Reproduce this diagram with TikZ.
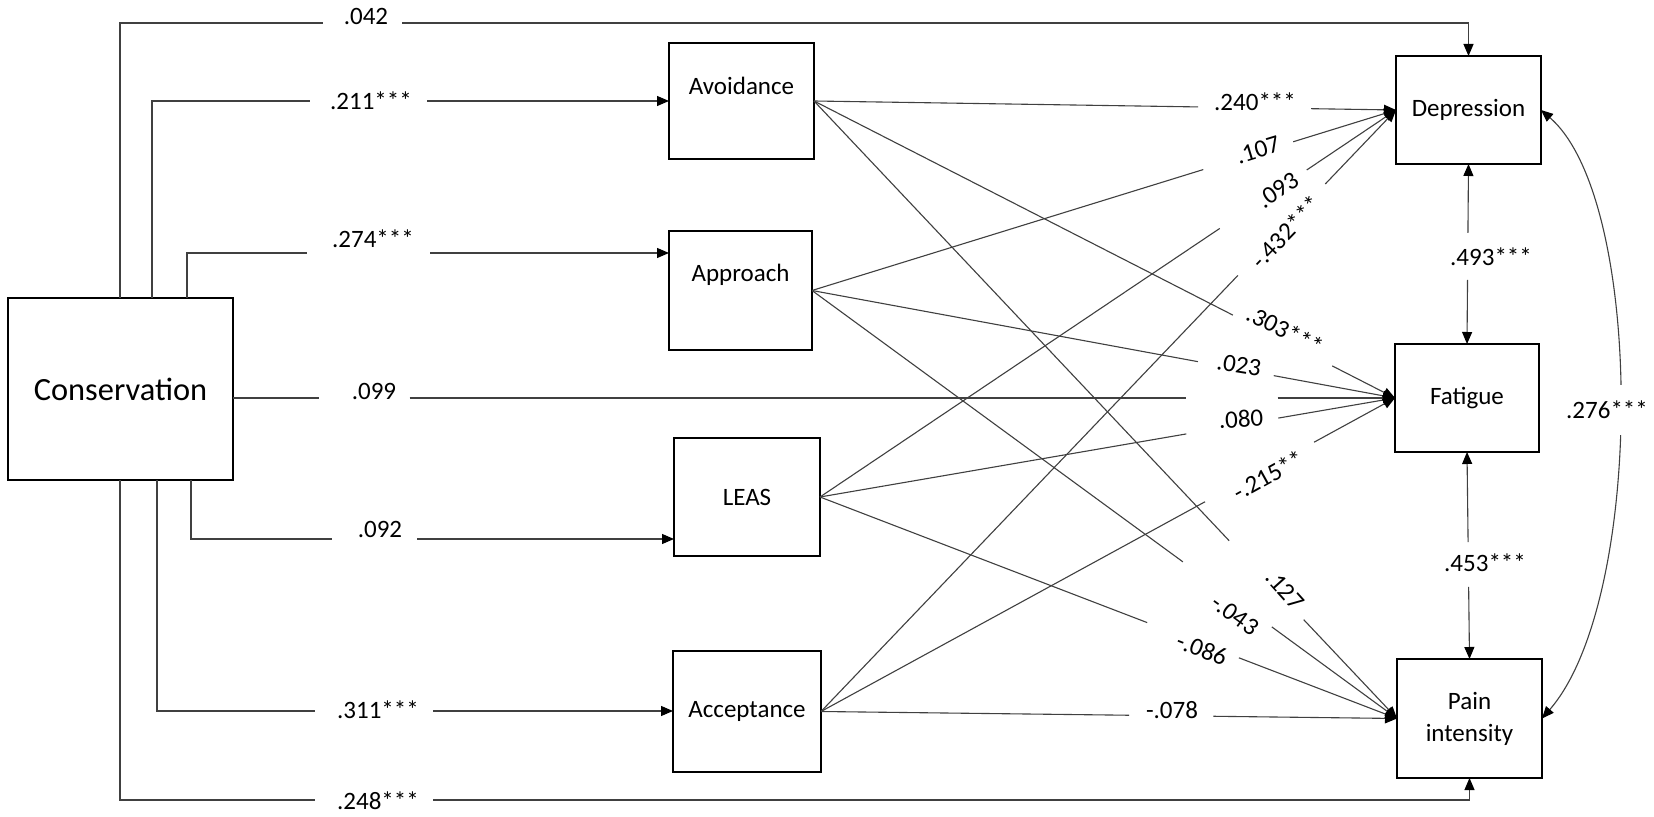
\documentclass[tikz,border=0pt]{standalone}
\usepackage{fontspec}
\setmainfont{Carlito}
\usetikzlibrary{arrows.meta,calc}
\newcommand{\gapconn}[4]{%
  \draw[conn] (#1) -- ($(#1)!#3!(#2)$);
  \draw[conn,arr] ($(#1)!#4!(#2)$) -- (#2);}
\begin{document}
\begin{tikzpicture}[x=0.5pt,y=-0.5pt,
  conn/.style={draw=black!75,line width=0.55pt},
  arr/.style={-{Triangle[length=6pt,width=5pt,color=black]}},
  rarr/.style={{Triangle[length=6pt,width=5pt,color=black]}-},
  darr/.style={{Triangle[length=6pt,width=5pt,color=black]}-{Triangle[length=6pt,width=5pt,color=black]}},
  box/.style={draw=black,line width=1.1pt,inner sep=0pt,outer sep=0pt,fill=white,
    font=\fontsize{12.5}{16}\selectfont,align=center},
  lab/.style={inner sep=0pt,font=\fontsize{12.5}{15}\selectfont},
  boxtext/.style={inner sep=0pt,font=\fontsize{12.5}{15}\selectfont}]

\useasboundingbox (0,0) rectangle (1654,817);
\fill[white] (0,0) rectangle (1654,817);

% boxes
\node[box,minimum width=112.5pt,minimum height=91pt,font=\fontsize{16.2}{19}\selectfont] (Cons) at (120.5,389) {Conservation};
\node[box,minimum width=72.5pt,minimum height=58pt,label={[boxtext,yshift=7.5pt]center:Avoidance}] (Av) at (741.5,101) {};
\node[box,minimum width=71.5pt,minimum height=59.5pt,label={[boxtext,yshift=7.75pt]center:Approach}] (Ap) at (740.5,290.5) {};
\node[box,minimum width=73pt,minimum height=59pt] (LEAS) at (747,497) {LEAS};
\node[box,minimum width=74pt,minimum height=60.5pt] (Acc) at (747,711.5) {Acceptance};
\node[box,minimum width=72.5pt,minimum height=54pt] (Dep) at (1468.5,110) {Depression};
\node[box,minimum width=72pt,minimum height=54pt] (Fat) at (1467,398) {Fatigue};
\node[box,minimum width=72.5pt,minimum height=59.5pt] (Pain) at (1469.5,718.5) {Pain\\intensity};

% left connectors
\coordinate (c1) at ($(Cons.north west)+(112,0)$);
\coordinate (c2) at ($(Cons.north west)+(144,0)$);
\coordinate (c3) at ($(Cons.north west)+(179,0)$);
\coordinate (c4) at ($(Cons.south west)+(183,0)$);
\coordinate (c5) at ($(Cons.south west)+(149,0)$);
\coordinate (c6) at ($(Cons.south west)+(112,0)$);
\coordinate (g1a) at (323,23);  \coordinate (g1b) at (402,23);
\coordinate (g2a) at (310,101); \coordinate (g2b) at (427,101);
\coordinate (g3a) at (307,253); \coordinate (g3b) at (430,253);
\coordinate (g4a) at (332,539); \coordinate (g4b) at (417,539);
\coordinate (g5a) at (315,711); \coordinate (g5b) at (433,711);
\coordinate (g6a) at (315,800); \coordinate (g6b) at (433,800);

\draw[conn] (c1) |- (g1a); \draw[conn,arr] (g1b) -| (Dep.north);
\draw[conn] (c2) |- (g2a); \draw[conn,arr] (g2b) -- (Av.west);
\draw[conn] (c3) |- (g3a); \draw[conn,arr] (g3b) -- (Ap.west |- g3b);
\draw[conn] (c4) |- (g4a); \draw[conn,arr] (g4b) -- (LEAS.west |- g4b);
\draw[conn] (c5) |- (g5a); \draw[conn,arr] (g5b) -- (Acc.west |- g5b);
\draw[conn] (c6) |- (g6a); \draw[conn,arr] (g6b) -| (Pain.south);

\node[lab] (l042) at (366,16) {.042};
\node[lab] (l211) at (371,101) {.211***};
\node[lab] (l274) at (373,239) {.274***};
\node[lab] (l092) at (380,529) {.092};
\node[lab] (l311) at (378,710) {.311***};
\node[lab] (l248) at (378,801) {.248***};

% conservation -> fatigue
\coordinate (cf0) at (Cons.east |- Fat.west);
\draw[conn] (cf0) -- ($(cf0)!0.074!(Fat.west)$);
\draw[conn] ($(cf0)!0.152!(Fat.west)$) -- ($(cf0)!0.820!(Fat.west)$);
\draw[conn,arr] ($(cf0)!0.899!(Fat.west)$) -- (Fat.west);
\node[lab] (l099) at (374,391) {.099};

% mediators -> outcomes
\gapconn{Av.east}{Dep.west}{0.660}{0.854}
\gapconn{Ap.east}{Dep.west}{0.670}{0.824}
\gapconn{LEAS.east}{Dep.west}{0.694}{0.845}
\gapconn{Acc.east}{Dep.west}{0.725}{0.877}
\gapconn{Av.east}{Fat.west}{0.721}{0.892}
\gapconn{Ap.east}{Fat.west}{0.662}{0.792}
\gapconn{LEAS.east}{Fat.west}{0.637}{0.797}
\gapconn{Acc.east}{Fat.west}{0.669}{0.859}
\gapconn{Av.east}{Pain.west}{0.712}{0.840}
\gapconn{Ap.east}{Pain.west}{0.634}{0.786}
\gapconn{LEAS.east}{Pain.west}{0.567}{0.726}
\gapconn{Acc.east}{Pain.west}{0.535}{0.681}

\node[lab] (l240) at (1255,102) {.240***};
\node[lab,rotate=17] (l107) at (1258,150) {.107};
\node[lab,rotate=34] (l093) at (1278,190) {.093};
\node[lab,rotate=46] (l432) at (1286,232) {-.432***};
\node[lab,rotate=-27] (l303) at (1285,330) {.303***};
\node[lab,rotate=-9] (l023) at (1239,365) {.023};
\node[lab,rotate=3] (l080) at (1241,419) {.080};
\node[lab,rotate=29] (l215) at (1268,475) {-.215**};
\node[lab,rotate=-48] (l127) at (1285,590) {.127};
\node[lab,rotate=-36] (l043) at (1235,615) {-.043};
\node[lab,rotate=-21] (l086) at (1202,649) {-.086};
\node[lab] (l078) at (1172,710) {-.078};

% correlations among outcomes
\draw[conn,rarr] (Dep.south) -- ($(Dep.south)!0.383!(Fat.north)$);
\draw[conn,arr] ($(Dep.south)!0.644!(Fat.north)$) -- (Fat.north);
\node[lab] (l493) at (1491,257) {.493***};
\draw[conn,rarr] (Fat.south) -- ($(Fat.south)!0.435!(Pain.north)$);
\draw[conn,arr] ($(Fat.south)!0.652!(Pain.north)$) -- (Pain.north);
\node[lab] (l453) at (1485,563) {.453***};
\draw[conn,darr] (Dep.east) .. controls (1645,200) and (1645,600) .. (Pain.east);
\node[lab,fill=white,inner ysep=8pt] (l276) at (1607,410) {.276***};
\end{tikzpicture}
\end{document}
